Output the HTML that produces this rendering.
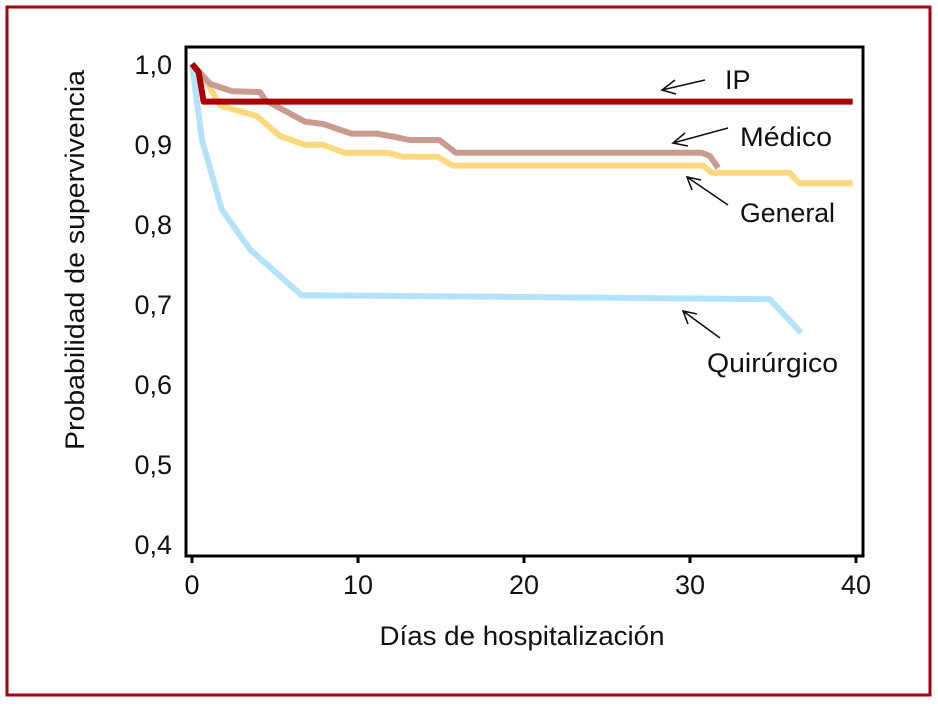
<!DOCTYPE html>
<html><head><meta charset="utf-8"><style>
body{margin:0;background:#fff;}
svg text{font-family:"Liberation Sans Narrow","Liberation Sans",sans-serif;fill:#111;}
</style></head><body>
<svg width="938" height="704" viewBox="0 0 938 704">
<rect x="7" y="7" width="923" height="688" fill="#fff" stroke="#a50014" stroke-width="3"/>
<g id="grid"></g>
<g id="series"></g>
<rect x="186" y="47" width="677" height="509" fill="none" stroke="#000" stroke-width="3"/>
<g id="axes"></g>
<text x="522" y="645" font-size="27" text-anchor="middle" textLength="285" lengthAdjust="spacingAndGlyphs">Días de hospitalización</text>
<text transform="translate(84,260) rotate(-90)" font-size="27" text-anchor="middle" textLength="380" lengthAdjust="spacingAndGlyphs">Probabilidad de supervivencia</text>
<g id="annot" stroke="#111" stroke-width="1.6" fill="none">
<path d="M705,80 L662,90 M675,80 L662,90 L676,94"/>
<path d="M728,128 L673,143 M685,133 L673,143 L688,146"/>
<path d="M728,205 L687,177 M692,190 L687,177 L701,180"/>
<path d="M720,338 L683,311 M688,324 L683,311 L697,314"/>
</g>
<text x="725" y="89" font-size="27">IP</text>
<text x="740" y="146" font-size="27" textLength="92" lengthAdjust="spacingAndGlyphs">Médico</text>
<text x="740" y="222" font-size="27" textLength="95" lengthAdjust="spacingAndGlyphs">General</text>
<text x="707" y="372" font-size="27" textLength="131" lengthAdjust="spacingAndGlyphs">Quirúrgico</text>
</svg>
<script>
const xTicks=[0,10,20,30,40];
const yTicks=[0.4,0.5,0.6,0.7,0.8,0.9,1.0];
const yTickLabels=["0,4","0,5","0,6","0,7","0,8","0,9","1,0"];
const quirX=[0,0.6,1.8,3.5,6.6,18.6,34.8,36.7];
const quirY=[1,0.905,0.818,0.768,0.711,0.709,0.706,0.664];
const genX=[0,0.8,1.7,3.9,5.3,6.8,7.9,9.2,11.8,12.7,14.8,15.7,30.8,31.3,36,36.6,39.8];
const genY=[1,0.98,0.948,0.935,0.91,0.899,0.899,0.889,0.889,0.884,0.884,0.873,0.873,0.864,0.864,0.851,0.851];
const medX=[0,1.1,2.4,4.1,4.4,6.8,7.9,9.6,11.1,12.2,13.1,14.9,15.9,30.7,31.2,31.7];
const medY=[1,0.975,0.966,0.965,0.955,0.928,0.925,0.913,0.913,0.909,0.905,0.905,0.889,0.889,0.885,0.87];
const ipX=[0,0.4,0.7,39.8];
const ipY=[1,0.99,0.953,0.953];
const NS="http://www.w3.org/2000/svg";
const xs=v=>192+v*16.6;
const ys=v=>64+(1-v)*800;
const axes=document.getElementById('axes');
xTicks.forEach(t=>{
 const l=document.createElementNS(NS,'line');
 l.setAttribute('x1',xs(t));l.setAttribute('x2',xs(t));l.setAttribute('y1',556);l.setAttribute('y2',563);
 l.setAttribute('stroke','#000');l.setAttribute('stroke-width','3');
 
 
 axes.appendChild(l);
 const tx=document.createElementNS(NS,'text');
 tx.setAttribute('x',xs(t));tx.setAttribute('y',594);tx.setAttribute('font-size','27');tx.setAttribute('text-anchor','middle');
 tx.textContent=t;
 
 
 axes.appendChild(tx);
});
yTicks.forEach((t,i)=>{
 const tx=document.createElementNS(NS,'text');
 tx.setAttribute('x',172);tx.setAttribute('y',ys(t)+10);tx.setAttribute('font-size','27');tx.setAttribute('text-anchor','end');
 tx.textContent=yTickLabels[i];
 
 
 axes.appendChild(tx);
});
const ser=document.getElementById('series');
function draw(X,Y,color,w,name){
 const p=document.createElementNS(NS,'polyline');
 p.setAttribute('points',X.map((x,i)=>xs(x)+','+ys(Y[i])).join(' '));
 p.setAttribute('fill','none');p.setAttribute('stroke',color);p.setAttribute('stroke-width',w);
 p.setAttribute('stroke-linejoin','round');
 
 
 ser.appendChild(p);
}
draw(quirX,quirY,'#b3e3fb',6,'series-quirurgico');
draw(genX,genY,'#fed87f',6,'series-general');
draw(medX,medY,'#c99b8f',6,'series-medico');
draw(ipX,ipY,'#a80000',6,'series-ip');
</script>
</body></html>
